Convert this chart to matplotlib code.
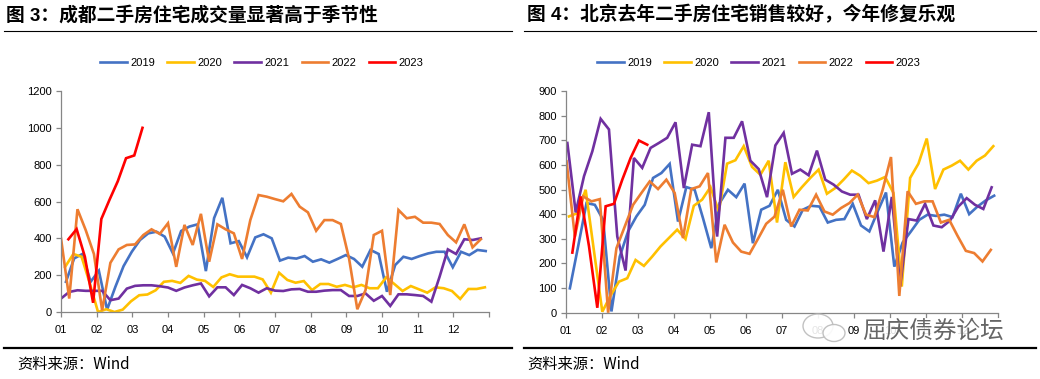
import numpy as np
import matplotlib
matplotlib.use('Agg')
import matplotlib.pyplot as plt
from matplotlib.lines import Line2D
from matplotlib.patches import Ellipse

plt.rcParams['font.family'] = ['Liberation Sans', 'Noto Sans CJK SC', 'DejaVu Sans']

# Datos (semana del año, 52 puntos por año)
years = ['2019', '2020', '2021', '2022', '2023']
colors = {'2019': '#4472C4', '2020': '#FFC000', '2021': '#7030A0',
          '2022': '#ED7D31', '2023': '#FF0000'}
month_labels = ['01', '02', '03', '04', '05', '06', '07', '08', '09', '10', '11', '12']

# Chengdu
cd_2019 = [164, 291, 315, 164, 224, 13, 136, 249, 327, 391, 427, 436, 409, 318, 440, 464, 476, 222,
           510, 620, 373, 385, 297, 405, 422, 400, 279, 295, 290, 304, 273, 286, 268, 288, 309, 288,
           246, 337, 315, 110, 255, 300, 288, 304, 318, 327, 327, 243, 327, 309, 337, 331]
cd_2020 = [245, 315, 300, 155, 0, 15, 0, 13, 58, 91, 95, 118, 164, 169, 158, 196, 176, 169,
           136, 188, 205, 192, 192, 192, 177, 105, 213, 174, 159, 168, 119, 152, 152, 137, 147, 134,
           147, 129, 129, 188, 152, 114, 141, 123, 105, 134, 129, 114, 71, 125, 125, 134]
cd_2021 = [73, 109, 118, 115, 115, 115, 64, 73, 127, 142, 145, 145, 140, 133, 115, 133, 145, 155,
           85, 134, 134, 92, 147, 129, 105, 129, 116, 114, 123, 125, 110, 110, 116, 119, 119, 87,
           87, 101, 61, 87, 33, 96, 96, 92, 87, 56, 192, 340, 315, 395, 391, 400]
cd_2022 = [400, 73, 558, 445, 315, 9, 267, 340, 364, 367, 418, 449, 424, 482, 245, 473, 364, 533,
           273, 476, 449, 427, 288, 499, 635, 626, 613, 601, 641, 572, 541, 441, 499, 499, 478, 290,
           15, 119, 418, 441, 92, 554, 509, 517, 485, 485, 478, 418, 378, 476, 351, 395]
cd_2023 = [395, 450, 300, 50, 505, 610, 710, 835, 850, 1000]

# Beijing
bj_2019 = [99, 270, 445, 438, 377, 5, 228, 330, 391, 438, 547, 567, 604, 370, 510, 499, 384, 262,
           445, 499, 469, 524, 282, 418, 434, 499, 377, 350, 418, 434, 431, 366, 377, 380, 442, 354,
           330, 411, 488, 187, 285, 330, 377, 398, 393, 398, 388, 483, 400, 431, 456, 475]
bj_2020 = [391, 404, 499, 250, 4, 70, 126, 140, 214, 190, 228, 269, 303, 337, 299, 434, 459, 510,
           411, 605, 619, 676, 592, 560, 617, 366, 611, 470, 510, 547, 581, 483, 506, 540, 577, 556,
           526, 536, 551, 486, 106, 547, 605, 707, 502, 581, 597, 617, 581, 617, 638, 676]
bj_2021 = [689, 407, 554, 655, 787, 744, 309, 171, 628, 588, 669, 689, 710, 773, 506, 682, 676, 814,
           309, 710, 710, 777, 617, 583, 469, 679, 730, 564, 581, 558, 658, 540, 520, 492, 479, 479,
           380, 456, 248, 470, 106, 380, 374, 442, 354, 347, 374, 431, 465, 438, 421, 509]
bj_2022 = [615, 309, 472, 452, 461, 0, 262, 350, 438, 486, 533, 502, 540, 486, 303, 502, 513, 567,
           204, 357, 285, 248, 239, 299, 361, 390, 499, 350, 418, 415, 479, 411, 398, 425, 445, 479,
           398, 388, 499, 632, 68, 493, 442, 452, 452, 366, 377, 312, 251, 242, 208, 255]
bj_2023 = [244, 472, 270, 20, 432, 442, 540, 628, 699, 682]

# desfase de semana de cada año (día de la semana del dato)
cd_shift = {'2019': 0.6, '2020': 0.5, '2021': 0.0, '2022': 0.0, '2023': 0.9}
bj_shift = {'2019': 0.5, '2020': 0.4, '2021': 0.2, '2022': 0.1, '2023': 0.8}

cd = dict(zip(years, [cd_2019, cd_2020, cd_2021, cd_2022, cd_2023]))
bj = dict(zip(years, [bj_2019, bj_2020, bj_2021, bj_2022, bj_2023]))

fig = plt.figure(figsize=(10.4, 3.79), dpi=100)
W, H = 1040, 379


def panel(rect, data, shift, ymax, ystep):
    ax = fig.add_axes(rect)
    for y in years:
        vals = data[y]
        x = np.arange(len(vals)) + shift[y]
        ax.plot(x, vals, color=colors[y], lw=1.9, label=y, solid_joinstyle='miter')
    ax.set_xlim(0, 52)
    ax.set_ylim(0, ymax)
    ax.set_yticks(np.arange(0, ymax + 1, ystep))
    ax.set_xticks(np.arange(13) * 52 / 12)
    ax.set_xticklabels(month_labels + [''])
    for s in ['top', 'right']:
        ax.spines[s].set_visible(False)
    for s in ['left', 'bottom']:
        ax.spines[s].set_color('#868686')
        ax.spines[s].set_linewidth(0.9)
    ax.tick_params(axis='both', direction='out', length=3.5, width=0.9, color='#868686',
                   labelsize=8, labelcolor='black', pad=3)
    ax.tick_params(axis='x', pad=6)
    return ax


ax1 = panel([61 / W, 1 - 312 / H, 428 / W, 221 / H], cd, cd_shift, 1200, 200)
ax2 = panel([565.7 / W, 1 - 312.7 / H, 432.6 / W, 221.7 / H], bj, bj_shift, 900, 100)

handles = [Line2D([0], [0], color=colors[y], lw=1.9) for y in years]
for cx in [262 / W, 759 / W]:
    fig.legend(handles, years, loc='center', bbox_to_anchor=(cx, 1 - 63 / H), ncol=5,
               frameon=False, fontsize=8, handlelength=2.4, handletextpad=0.3,
               columnspacing=1.1)

# titulos
title_font = ['Liberation Sans', 'Noto Sans CJK SC']
fig.text(6 / W, 1 - 15 / H, '图 3：成都二手房住宅成交量显著高于季节性', fontsize=13.5,
         fontweight='bold', va='center', ha='left', family=title_font)
fig.text(527 / W, 1 - 15 / H, '图 4：北京去年二手房住宅销售较好，今年修复乐观', fontsize=13.5,
         fontweight='bold', va='center', ha='left', family=title_font)

# lineas de separacion
for x0, x1 in [(4, 512), (524, 1036)]:
    fig.add_artist(Line2D([x0 / W, x1 / W], [1 - 30.5 / H, 1 - 30.5 / H], color='black', lw=0.8))
    fig.add_artist(Line2D([x0 / W, x1 / W], [1 - 348 / H, 1 - 348 / H], color='black', lw=1.6))

# fuente
fig.text(17 / W, 1 - 365 / H, '资料来源：Wind', fontsize=11, va='center', ha='left',
         family=['Noto Sans CJK SC', 'Liberation Sans'])
fig.text(527 / W, 1 - 365 / H, '资料来源：Wind', fontsize=11, va='center', ha='left',
         family=['Noto Sans CJK SC', 'Liberation Sans'])

# marca de agua (tapa las etiquetas del eje como en el original)
for (ex, ey, ew, eh) in [(818, 326, 30, 24), (834, 333, 22, 17)]:
    fig.add_artist(Ellipse((ex / W, 1 - ey / H), ew / W, eh / H, facecolor='white',
                           edgecolor='#bbbbbb', lw=1.0, alpha=0.9, zorder=5))
fig.text(1004 / W, 1 - 331 / H, '屈庆债券论坛', fontsize=17, va='center', ha='right',
         color='#666666', family=['Noto Sans CJK SC'], zorder=6,
         bbox=dict(facecolor='white', edgecolor='none', alpha=0.85, pad=1))

plt.savefig('out.png', dpi=100)
